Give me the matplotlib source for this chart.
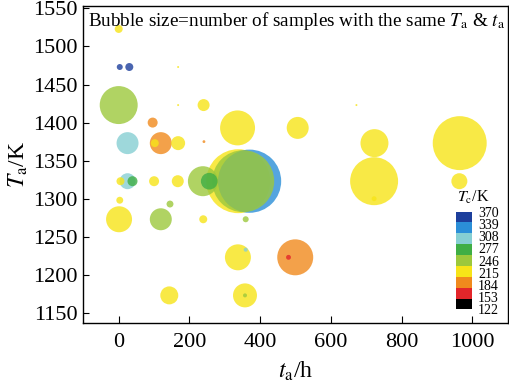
import matplotlib
matplotlib.use("Agg")
import matplotlib.pyplot as plt
from matplotlib.colors import ListedColormap, BoundaryNorm
import numpy as np

plt.rcParams['font.family'] = ['Liberation Serif', 'DejaVu Serif']
plt.rcParams['mathtext.fontset'] = 'stix'

# aging time t_a (h), aging temperature T_a (K), bubble size, T_c (K)
t_a = [0, 3, 30, 168, 0, 168, 240, 672, 96, 336, 506,
       25, 119, 102, 168, 241, 723, 964,
       370, 338, 352, 238, 256, 25, 5, 39, 100, 167, 722, 963,
       3, 145, 722, 1, 119, 239, 359,
       337, 359, 499, 480, 143, 357, 357]
T_a = [1523, 1473, 1473, 1473, 1423, 1423, 1423, 1423, 1400, 1393, 1393,
       1373, 1373, 1373, 1373, 1375, 1373, 1373,
       1323, 1323, 1323, 1323, 1323, 1323, 1323, 1323, 1323, 1323, 1323, 1323,
       1298, 1293, 1300, 1273, 1273, 1273, 1273,
       1223, 1233, 1223, 1223, 1173, 1173, 1173]
size = [16, 9, 16, 1, 361, 1, 36, 1, 25, 306, 121,
        121, 121, 16, 49, 2, 196, 729,
        1000, 1024, 961, 225, 70, 64, 16, 25, 25, 36, 576, 64,
        12, 12, 6, 169, 121, 16, 9,
        169, 4, 324, 6, 81, 144, 4]
T_c = [215, 370, 370, 215, 246, 215, 215, 215, 184, 215, 215,
       308, 184, 215, 215, 184, 215, 215,
       339, 215, 246, 246, 277, 308, 215, 277, 215, 215, 215, 215,
       215, 246, 215, 215, 246, 215, 246,
       215, 308, 184, 153, 215, 215, 246]

tc_ticks = [122, 153, 184, 215, 246, 277, 308, 339, 370]
tc_colors = ['#000000', '#e3262a', '#f08a1d', '#f7e418', '#9cc83c',
             '#3fae45', '#86cfd3', '#2b8fd8', '#1d3f9c']

cmap = ListedColormap(tc_colors)
norm = BoundaryNorm(np.linspace(122, 370, len(tc_colors) + 1), cmap.N)

fig = plt.figure(figsize=(5.09, 3.82), dpi=100)
ax = fig.add_axes([0.1637, 0.155, 0.834, 0.829])

order = np.argsort(size, kind='stable')[::-1]
x = np.array(t_a)[order]
y = np.array(T_a)[order]
s = np.array(size, dtype=float)[order] * 2.07
c = np.array(T_c)[order]
ax.scatter(x, y, s=s, c=c, cmap=cmap, norm=norm, alpha=0.8,
           linewidths=0, zorder=2)

ax.set_xlim(-100, 1100)
ax.set_ylim(1137, 1553)
ax.set_xticks(range(0, 1001, 200))
ax.set_yticks(range(1150, 1551, 50))
ax.tick_params(direction='in', length=4, labelsize=16, pad=4)
ax.tick_params(axis='x', length=5, pad=7)
for sp in ax.spines.values():
    sp.set_linewidth(1.0)

ax.set_xlabel(r'$t_\mathrm{a}$/h', fontsize=17, labelpad=6)
ax.set_ylabel(r'$T_\mathrm{a}$/K', fontsize=17, labelpad=2)

ax.text(0.012, 0.953,
        r'Bubble size=number of samples with the same $T_\mathrm{a}$ & $t_\mathrm{a}$',
        transform=ax.transAxes, fontsize=13.8, va='center', ha='left')

cax = fig.add_axes([0.896, 0.19, 0.032, 0.256])
cb = fig.colorbar(plt.cm.ScalarMappable(norm=plt.Normalize(122, 370), cmap=cmap),
                  cax=cax, ticks=tc_ticks)
cb.outline.set_visible(False)
cb.ax.tick_params(length=0, labelsize=10, pad=4)
fig.text(473 / 509, 1 - 197 / 382, r'$T_\mathrm{c}$/K', fontsize=11.5,
         ha='center', va='center')

fig.savefig('out.png', dpi=100)
